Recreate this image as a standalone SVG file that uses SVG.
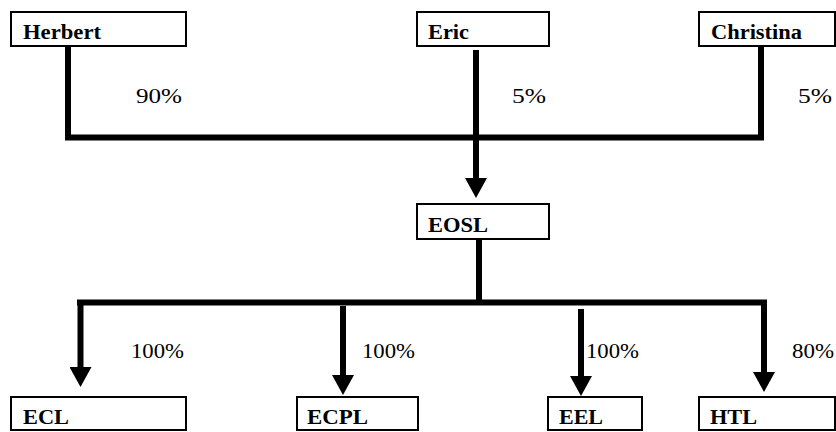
<svg xmlns="http://www.w3.org/2000/svg" width="836" height="432" viewBox="0 0 836 432">
<style>
.box{fill:#fff;stroke:#000;stroke-width:2}
.name{font-family:"Liberation Serif","Times New Roman",serif;font-weight:bold;font-size:20px;fill:#000}
.pct{font-family:"Liberation Serif","Times New Roman",serif;font-size:22px;fill:#000}
.ln{fill:none;stroke:#000;stroke-width:6;stroke-linejoin:miter}
</style>
<defs>
<marker id="ah" markerUnits="userSpaceOnUse" markerWidth="20" markerHeight="22" refX="0" refY="11" orient="auto" viewBox="0 0 20 22">
<path d="M0,0 L20,11 L0,22 z" fill="#000"/>
</marker>
</defs>
<rect width="836" height="432" fill="#fff"/>
<g id="connectors">
<path class="ln" d="M68,46 V137.5 H761 V46"/>
<path class="ln" d="M476,50 V178" marker-end="url(#ah)"/>
<path class="ln" d="M479,239 V302.5"/>
<path class="ln" d="M77,302.5 H767"/>
<path class="ln" d="M80.5,302.5 V367" marker-end="url(#ah)"/>
<path class="ln" d="M343,306 V375" marker-end="url(#ah)"/>
<path class="ln" d="M581,309 V376" marker-end="url(#ah)"/>
<path class="ln" d="M764,302.5 V372" marker-end="url(#ah)"/>
<text class="pct" x="136" y="103" textLength="46" lengthAdjust="spacingAndGlyphs">90%</text>
<text class="pct" x="512" y="103" textLength="34" lengthAdjust="spacingAndGlyphs">5%</text>
<text class="pct" x="798" y="103" textLength="34" lengthAdjust="spacingAndGlyphs">5%</text>
<text class="pct" x="131" y="358" textLength="53" lengthAdjust="spacingAndGlyphs">100%</text>
<text class="pct" x="362" y="358" textLength="53" lengthAdjust="spacingAndGlyphs">100%</text>
<text class="pct" x="586" y="358" textLength="53" lengthAdjust="spacingAndGlyphs">100%</text>
<text class="pct" x="792" y="358" textLength="42" lengthAdjust="spacingAndGlyphs">80%</text>
</g>
<g id="herbert"><rect class="box" x="11" y="12" width="175" height="34"/><text class="name" x="23" y="39" textLength="78" lengthAdjust="spacingAndGlyphs">Herbert</text></g>
<g id="eric"><rect class="box" x="417" y="12" width="132" height="34"/><text class="name" x="428" y="39" textLength="41" lengthAdjust="spacingAndGlyphs">Eric</text></g>
<g id="christina"><rect class="box" x="699" y="12" width="136" height="34"/><text class="name" x="711" y="39" textLength="91" lengthAdjust="spacingAndGlyphs">Christina</text></g>
<g id="eosl"><rect class="box" x="417" y="204" width="132" height="35"/><text class="name" x="428" y="232" textLength="60" lengthAdjust="spacingAndGlyphs">EOSL</text></g>
<g id="ecl"><rect class="box" x="11" y="397" width="175" height="33"/><text class="name" x="23" y="424" textLength="46" lengthAdjust="spacingAndGlyphs">ECL</text></g>
<g id="ecpl"><rect class="box" x="297" y="397" width="121" height="33"/><text class="name" x="307" y="424" textLength="61" lengthAdjust="spacingAndGlyphs">ECPL</text></g>
<g id="eel"><rect class="box" x="548" y="397" width="94" height="33"/><text class="name" x="559" y="424" textLength="44" lengthAdjust="spacingAndGlyphs">EEL</text></g>
<g id="htl"><rect class="box" x="699" y="397" width="136" height="33"/><text class="name" x="710" y="424" textLength="47" lengthAdjust="spacingAndGlyphs">HTL</text></g>
</svg>
